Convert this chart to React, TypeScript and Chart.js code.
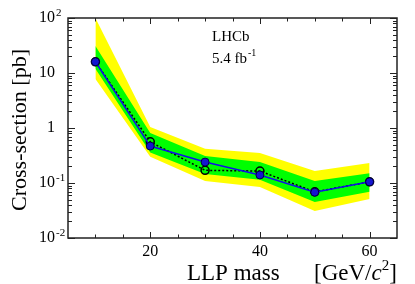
import React, { useEffect, useRef } from "react";
import { Chart, registerables } from "chart.js";

Chart.register(...registerables);

// ---- data ----
const masses = [10, 20, 30, 40, 50, 60];
const observed = [16, 0.47, 0.24, 0.14, 0.068, 0.105];
const expected = [16, 0.56, 0.17, 0.165, 0.069, 0.105];
const green1Up = [31, 0.81, 0.31, 0.24, 0.109, 0.15];
const green1Down = [12, 0.36, 0.146, 0.114, 0.045, 0.069];
const yellow2Up = [100, 1.04, 0.42, 0.35, 0.166, 0.23];
const yellow2Down = [7.8, 0.3, 0.109, 0.085, 0.031, 0.051];

const xMajorTicks = [20, 40, 60];
const xMinorTicks = [10, 15, 25, 30, 35, 45, 50, 55];
const yDecades = [0.01, 0.1, 1, 10, 100];
const yTickBase = ["10", "10", "1", "10", "10"];
const yTickExp = ["-2", "-1", "", "", "2"];

const SERIF = '"Liberation Serif", "Times New Roman", serif';

const framePlugin = {
  id: "rootFrame",
  afterDraw(chart: any) {
    const ctx = chart.ctx as CanvasRenderingContext2D;
    const { left, right, top, bottom } = chart.chartArea;
    const xs = chart.scales.x;
    const ys = chart.scales.y;
    ctx.save();
    ctx.strokeStyle = "#222";
    ctx.lineWidth = 1.5;
    ctx.strokeRect(left, top, right - left, bottom - top);

    ctx.lineWidth = 1;
    ctx.beginPath();
    // x ticks
    const xt = (v: number, len: number) => {
      const px = Math.round(xs.getPixelForValue(v)) + 0.5;
      ctx.moveTo(px, bottom);
      ctx.lineTo(px, bottom - len);
      ctx.moveTo(px, top);
      ctx.lineTo(px, top + len);
    };
    xMajorTicks.forEach((v) => xt(v, 6));
    xMinorTicks.forEach((v) => xt(v, 3.5));
    // y ticks
    const yt = (v: number, len: number) => {
      const py = Math.round(ys.getPixelForValue(v)) + 0.5;
      ctx.moveTo(left, py);
      ctx.lineTo(left + len, py);
      ctx.moveTo(right, py);
      ctx.lineTo(right - len, py);
    };
    yDecades.forEach((d, i) => {
      yt(d, 7);
      if (i < yDecades.length - 1) {
        for (let k = 2; k <= 9; k++) yt(d * k, 4);
      }
    });
    ctx.stroke();

    ctx.fillStyle = "#000";
    // y tick labels
    yDecades.forEach((d, i) => {
      const py = ys.getPixelForValue(d);
      ctx.font = `16px ${SERIF}`;
      ctx.textAlign = "right";
      ctx.textBaseline = "middle";
      ctx.fillText(yTickBase[i], 55, py);
      if (yTickExp[i]) {
        ctx.font = `11px ${SERIF}`;
        ctx.textAlign = "left";
        ctx.textBaseline = "alphabetic";
        ctx.fillText(yTickExp[i], 56, py - 2);
      }
    });
    // x tick labels
    ctx.font = `16px ${SERIF}`;
    ctx.textAlign = "center";
    ctx.textBaseline = "top";
    xMajorTicks.forEach((v) => {
      ctx.fillText(String(v), xs.getPixelForValue(v), bottom + 6);
    });

    // x title
    ctx.textAlign = "left";
    ctx.textBaseline = "alphabetic";
    ctx.font = `23px ${SERIF}`;
    ctx.fillText("LLP mass", 187, 280);
    let x = 314;
    const part = (t: string, font: string, dy = 0) => {
      ctx.font = font;
      ctx.fillText(t, x, 280 + dy);
      x += ctx.measureText(t).width;
    };
    part("[GeV/", `23px ${SERIF}`);
    part("c", `italic 23px ${SERIF}`);
    part("2", `15px ${SERIF}`, -10);
    part("]", `23px ${SERIF}`);

    // y title
    ctx.save();
    ctx.translate(26, 130);
    ctx.rotate(-Math.PI / 2);
    ctx.font = `22px ${SERIF}`;
    ctx.textAlign = "center";
    ctx.textBaseline = "alphabetic";
    ctx.fillText("Cross-section [pb]", 0, 0);
    ctx.restore();

    // labels
    ctx.textAlign = "left";
    ctx.font = `15px ${SERIF}`;
    ctx.fillText("LHCb", 212, 41);
    ctx.fillText("5.4 fb", 212, 63);
    const w = ctx.measureText("5.4 fb").width;
    ctx.font = `10px ${SERIF}`;
    ctx.fillText("-1", 212 + w + 1, 56);
    ctx.restore();
  },
};

export default function App() {
  const ref = useRef<HTMLCanvasElement | null>(null);
  useEffect(() => {
    if (!ref.current) return;
    const pts = (arr: number[]) => masses.map((m, i) => ({ x: m, y: arr[i] }));
    const band = (arr: number[], color: string, fill: any, order: number) => ({
      data: pts(arr),
      borderWidth: 0,
      borderColor: color,
      backgroundColor: color,
      pointRadius: 0,
      fill,
      order,
      tension: 0,
    });
    const chart = new Chart(ref.current, {
      type: "line",
      data: {
        datasets: [
          band(yellow2Up, "#ffff00", "+1", 6),
          band(yellow2Down, "#ffff00", false, 5),
          band(green1Up, "#00ff00", "+1", 4),
          band(green1Down, "#00ff00", false, 3),
          {
            data: pts(expected),
            borderColor: "#000",
            borderWidth: 1.5,
            borderDash: [2, 2],
            pointRadius: 4,
            pointBorderWidth: 1.5,
            pointBorderColor: "#000",
            pointBackgroundColor: "rgba(0,0,0,0)",
            fill: false,
            order: 2,
          },
          {
            data: pts(observed),
            borderColor: "#1010e8",
            borderWidth: 1.5,
            pointRadius: 4,
            pointBorderWidth: 1,
            pointBorderColor: "#000040",
            pointBackgroundColor: "#1515d0",
            fill: false,
            order: 1,
          },
        ] as any,
      },
      options: {
        animation: false,
        responsive: false,
        layout: { padding: { left: 68, top: 18, right: 18, bottom: 46 } },
        plugins: { legend: { display: false }, tooltip: { enabled: false } },
        scales: {
          x: { type: "linear", min: 5, max: 65, display: false },
          y: { type: "logarithmic", min: 0.01, max: 100, display: false },
        },
      },
      plugins: [framePlugin],
    });
    return () => chart.destroy();
  }, []);
  return (
    <canvas
      ref={ref}
      width={415}
      height={284}
      style={{ position: "absolute", left: 0, top: 0, width: 415, height: 284, background: "#fff" }}
    />
  );
}
